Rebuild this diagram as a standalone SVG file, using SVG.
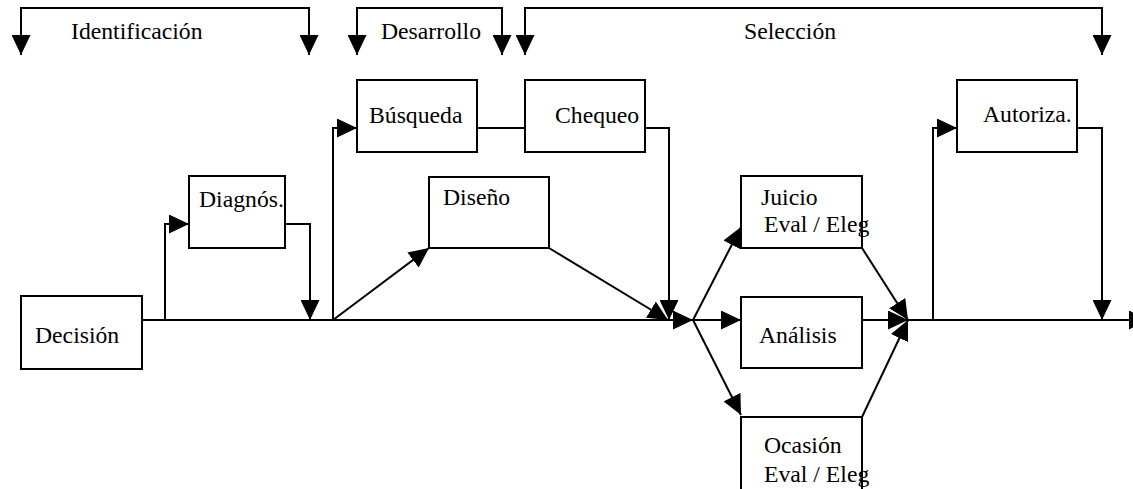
<svg xmlns="http://www.w3.org/2000/svg" width="1133" height="489" viewBox="0 0 1133 489" font-family="'Liberation Serif', Tinos, 'Times New Roman', Times, 'DejaVu Serif', serif">
  <defs>
    <marker id="arrow" viewBox="0 0 20 19" refX="20" refY="9.5" markerWidth="20" markerHeight="19" markerUnits="userSpaceOnUse" orient="auto-start-reverse">
      <path d="M0,0 L20,9.5 L0,19 Z" fill="#000"/>
    </marker>
    <style>
      .box { fill: #fff; stroke: #000; stroke-width: 2; }
      .line { fill: none; stroke: #000; stroke-width: 2; }
      .arr { marker-end: url(#arrow); }
      .both { marker-start: url(#arrow); marker-end: url(#arrow); }
      text { font-size: 23.7px; fill: #000; }
    </style>
  </defs>
  <rect width="1133" height="489" fill="#fff"/>

  <!-- phase brackets -->
  <g id="phases">
    <path class="line both" d="M21,55 V8 H309 V55"/>
    <text x="71" y="39">Identificación</text>
    <path class="line both" d="M357,55 V8 H502 V55"/>
    <text x="381" y="39">Desarrollo</text>
    <path class="line both" d="M525,55 V8 H1102 V55"/>
    <text x="744" y="39">Selección</text>
  </g>

  <!-- connectors -->
  <g id="connectors">
    <!-- main line -->
    <path class="line arr" d="M142,320 H693"/>
    <path class="line arr" d="M908,320 H1149"/>
    <!-- Diagnós loop -->
    <path class="line arr" d="M165,320 V224 H189"/>
    <path class="line arr" d="M285,224 H310 V320"/>
    <!-- Búsqueda / Chequeo loop -->
    <path class="line arr" d="M333,320 V128 H357"/>
    <path class="line" d="M477,128 H525"/>
    <path class="line arr" d="M645,128 H669 V320"/>
    <!-- Diseño -->
    <path class="line arr" d="M333,320 L429,248"/>
    <path class="line arr" d="M549,248 L668,320"/>
    <!-- fork to evaluation paths -->
    <path class="line arr" d="M693,320 L741,227"/>
    <path class="line arr" d="M693,320 H741"/>
    <path class="line arr" d="M693,320 L741,415"/>
    <!-- join -->
    <path class="line arr" d="M862,248 L908,320"/>
    <path class="line arr" d="M862,320 H908"/>
    <path class="line arr" d="M862,417 L908,320"/>
    <!-- Autoriza loop -->
    <path class="line arr" d="M933,320 V128 H957"/>
    <path class="line arr" d="M1077,128 H1102 V320"/>
  </g>

  <g id="decision">
    <rect class="box" x="21" y="296" width="121" height="73"/>
    <text x="35" y="343">Decisión</text>
  </g>
  <g id="diagnos">
    <rect class="box" x="189" y="176" width="96" height="72"/>
    <text x="199" y="207">Diagnós.</text>
  </g>
  <g id="busqueda">
    <rect class="box" x="357" y="80" width="120" height="72"/>
    <text x="369" y="123">Búsqueda</text>
  </g>
  <g id="chequeo">
    <rect class="box" x="525" y="80" width="120" height="72"/>
    <text x="555" y="123">Chequeo</text>
  </g>
  <g id="diseno">
    <rect class="box" x="429" y="177" width="120" height="71"/>
    <text x="443" y="205">Diseño</text>
  </g>
  <g id="juicio">
    <rect class="box" x="741" y="176" width="121" height="72"/>
    <text x="761" y="205">Juicio</text>
    <text x="764" y="232">Eval / Eleg</text>
  </g>
  <g id="analisis">
    <rect class="box" x="741" y="297" width="121" height="71"/>
    <text x="759" y="343">Análisis</text>
  </g>
  <g id="ocasion">
    <rect class="box" x="741" y="417" width="121" height="80"/>
    <text x="764" y="453">Ocasión</text>
    <text x="764" y="482">Eval / Eleg</text>
  </g>
  <g id="autoriza">
    <rect class="box" x="957" y="80" width="120" height="72"/>
    <text x="983" y="122">Autoriza.</text>
  </g>
</svg>
